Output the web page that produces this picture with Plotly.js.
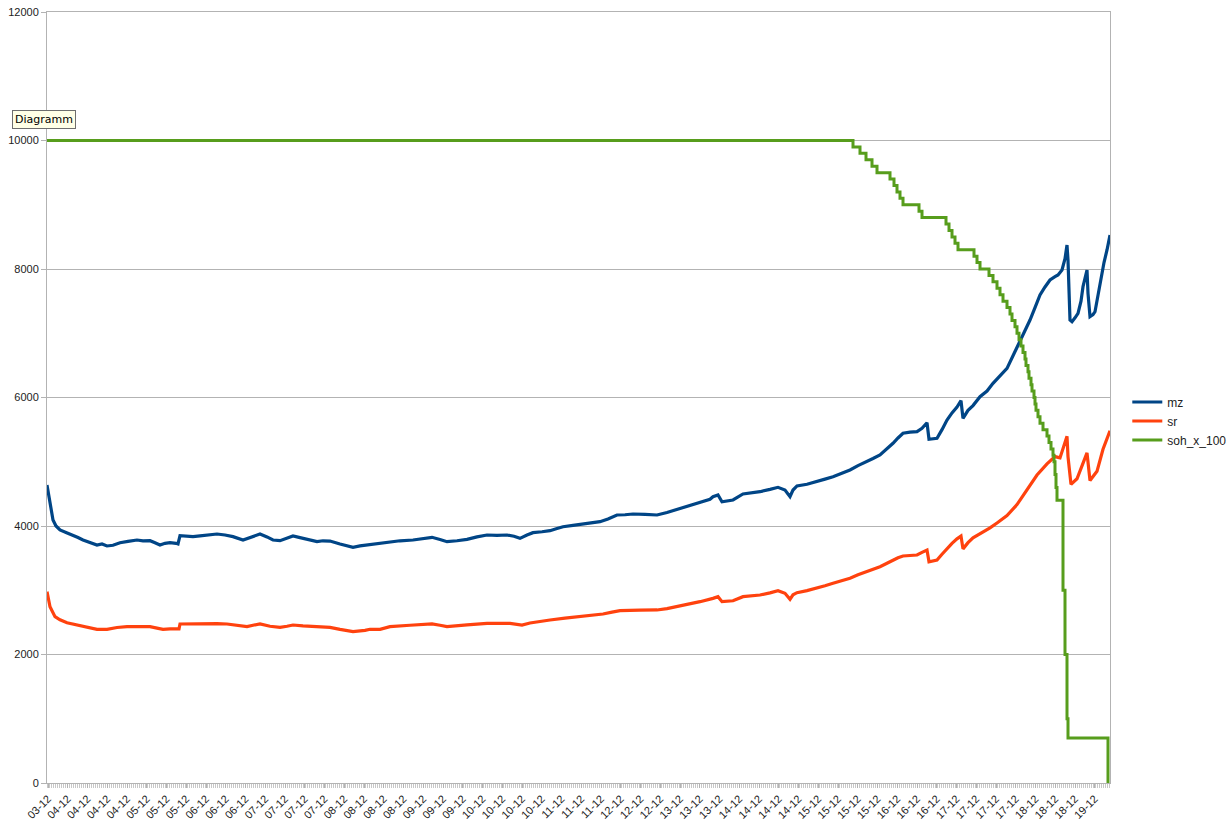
<!DOCTYPE html>
<html>
<head>
<meta charset="utf-8">
<script src="https://cdn.plot.ly/plotly-3.0.1.min.js"></script>
<style>
  html, body { margin: 0; padding: 0; background: #ffffff; }
  #chart { width: 1230px; height: 825px; }
</style>
</head>
<body>
<div id="chart"></div>
<script>
// ---- Data (sample position, value) ----
const tickLabels = ["03-12","04-12","04-12","04-12","04-12","05-12","05-12","05-12","06-12","06-12","06-12",
  "07-12","07-12","07-12","07-12","08-12","08-12","08-12","08-12","09-12","09-12","09-12",
  "10-12","10-12","10-12","10-12","11-12","11-12","11-12","12-12","12-12","12-12",
  "13-12","13-12","13-12","14-12","14-12","14-12","14-12","15-12","15-12","15-12","15-12",
  "16-12","16-12","16-12","17-12","17-12","17-12","17-12","18-12","18-12","18-12","19-12"];

const mzX = [0,3,6,9,13,19,26,31,36,43,50,55,60,66,73,81,90,96,103,108,113,118,123,129,131,133,139,146,153,161,170,178,186,196,205,213,220,226,233,240,246,253,260,270,276,283,293,300,306,313,320,328,333,343,353,366,375,385,393,400,410,420,430,440,450,460,467,473,480,486,495,503,510,516,526,536,545,553,561,570,578,586,598,610,620,630,638,646,653,663,666,671,675,680,686,696,705,713,723,731,738,743,746,750,760,770,778,786,795,803,811,820,826,833,840,846,851,856,863,870,875,880,882,886,890,895,900,905,910,914,916,921,926,933,940,946,953,960,966,973,978,983,988,993,998,1003,1008,1011,1015,1018,1020,1021,1023,1025,1028,1031,1034,1036,1040,1041,1043,1046,1048,1051,1055,1057,1060,1063];
const mzY = [4638,4353,4093,4000,3938,3900,3860,3820,3782,3740,3704,3720,3689,3700,3740,3760,3782,3770,3771,3740,3704,3730,3740,3730,3720,3850,3840,3834,3845,3860,3875,3860,3834,3782,3830,3875,3830,3782,3771,3810,3844,3820,3792,3756,3770,3766,3720,3690,3668,3690,3704,3720,3730,3756,3770,3782,3800,3824,3790,3756,3770,3792,3830,3860,3855,3860,3840,3808,3860,3896,3910,3927,3960,3989,4010,4031,4050,4067,4110,4171,4175,4187,4180,4171,4210,4260,4300,4338,4378,4416,4456,4483,4378,4390,4405,4498,4515,4534,4570,4602,4560,4456,4560,4623,4650,4690,4730,4767,4820,4872,4940,5001,5050,5105,5200,5287,5370,5443,5460,5468,5520,5608,5350,5355,5365,5500,5650,5760,5850,5950,5676,5800,5874,6012,6100,6221,6330,6454,6650,6868,7040,7206,7400,7595,7720,7829,7880,7907,7984,8160,8373,8140,7206,7180,7240,7310,7500,7725,7984,7622,7258,7290,7335,7600,7933,8100,8296,8529];

const srX = [0,3,8,13,20,26,33,41,50,60,70,80,93,103,110,116,123,130,132,133,146,160,170,180,190,200,206,213,223,233,240,246,256,266,276,283,293,300,306,318,323,333,343,363,385,393,400,420,440,463,468,475,483,493,503,518,536,546,556,565,573,593,610,620,630,643,653,666,671,675,686,696,713,723,731,738,743,746,750,760,770,778,786,795,803,811,820,826,833,840,846,851,856,863,870,875,880,882,886,890,895,900,905,910,914,916,921,926,936,943,950,960,970,980,990,1000,1008,1013,1016,1020,1021,1024,1030,1035,1040,1043,1050,1056,1063];
const srY = [2978,2744,2588,2540,2495,2475,2459,2420,2392,2392,2420,2433,2440,2433,2410,2392,2400,2408,2400,2475,2480,2485,2480,2475,2455,2433,2455,2475,2440,2423,2440,2459,2445,2433,2425,2423,2390,2365,2355,2375,2392,2392,2433,2455,2475,2455,2433,2460,2485,2485,2470,2459,2490,2515,2537,2565,2599,2615,2630,2660,2682,2690,2693,2715,2744,2790,2822,2874,2900,2822,2837,2900,2926,2960,2993,2952,2859,2930,2962,2995,3030,3070,3108,3145,3186,3240,3289,3330,3367,3420,3471,3505,3533,3540,3549,3590,3626,3444,3455,3471,3560,3653,3730,3800,3845,3644,3740,3816,3902,3970,4046,4161,4333,4563,4793,4966,5080,5060,5200,5397,5080,4649,4736,4950,5138,4707,4851,5195,5483];

const sohX = [0,806,813,819,825,830,843,847,850,853,856,872,875,899,902,905,908,911,927,930,933,942,946,950,953,956,960,963,965,968,970,972,974,976,978,979,981,982,984,985,987,988,989,991,993,996,1000,1002,1004,1006,1007,1008,1009,1010,1014,1016,1018,1020,1021,1061,1062];
const sohY = [10000,9900,9800,9700,9600,9500,9400,9300,9200,9100,9000,8900,8800,8700,8600,8500,8400,8300,8200,8100,8000,7900,7800,7700,7600,7500,7400,7300,7200,7100,7000,6900,6800,6700,6600,6500,6400,6300,6200,6100,6000,5900,5800,5700,5600,5500,5400,5300,5200,5100,5000,4800,4600,4400,4400,3000,2000,1000,700,0,0];

// ---- Axis layout constants ----
const X_MAX = 1063;
const LABEL_START = 1;
const LABEL_STEP = 19.75;
const tickVals = tickLabels.map((_, i) => LABEL_START + i * LABEL_STEP);

const FONT = "'Liberation Sans', Arial, sans-serif";
const GRID = "#b3b3b3";

const traces = [
  { x: mzX, y: mzY, name: "mz", type: "scatter", mode: "lines",
    line: { color: "#004586", width: 3.2 } },
  { x: srX, y: srY, name: "sr", type: "scatter", mode: "lines",
    line: { color: "#ff420e", width: 3.2 } },
  { x: sohX, y: sohY, name: "soh_x_100", type: "scatter", mode: "lines",
    line: { color: "#579d1c", width: 3, shape: "hv" } }
];

const layout = {
  width: 1230, height: 825,
  margin: { l: 47, r: 120, t: 12, b: 42, pad: 0 },
  paper_bgcolor: "#ffffff", plot_bgcolor: "#ffffff",
  font: { family: FONT, size: 11, color: "#222222" },
  showlegend: true,
  legend: {
    xref: "container", yref: "container",
    x: 0.9165, xanchor: "left", y: 0.4897, yanchor: "middle",
    font: { family: FONT, size: 12, color: "#222222" },
    bgcolor: "rgba(0,0,0,0)", borderwidth: 0, tracegroupgap: 0, itemwidth: 30
  },
  xaxis: {
    range: [0, X_MAX], autorange: false, fixedrange: true,
    tickmode: "array", tickvals: tickVals, ticktext: tickLabels,
    tickangle: -45, tickfont: { family: FONT, size: 11, color: "#222222" },
    ticks: "outside", ticklen: 4, tickcolor: GRID, tickwidth: 1,
    minor: { ticks: "outside", ticklen: 4, tickcolor: "#c8c8c8", tickwidth: 1, tickmode: "linear", dtick: 2, tick0: 0, showgrid: false },
    showgrid: false, zeroline: false,
    showline: true, linecolor: GRID, linewidth: 1, mirror: true,
    automargin: false
  },
  yaxis: {
    range: [0, 12000], autorange: false, fixedrange: true,
    tickmode: "linear", tick0: 0, dtick: 2000, tickformat: "d",
    tickfont: { family: FONT, size: 11, color: "#222222" },
    ticks: "outside", ticklen: 5, tickcolor: GRID, tickwidth: 1,
    showgrid: true, gridcolor: GRID, gridwidth: 1,
    zeroline: false, showline: true, linecolor: GRID, linewidth: 1, mirror: true,
    automargin: false
  },
  annotations: [{
    text: "Diagramm", xref: "paper", yref: "paper",
    x: -0.0325, xanchor: "left", y: 0.861, yanchor: "middle",
    showarrow: false, bgcolor: "#ffffe6", bordercolor: "#6e6e6e", borderwidth: 1, borderpad: 2,
    font: { family: "'DejaVu Sans', 'Noto Sans', sans-serif", size: 11, color: "#000000" }
  }]
};

Plotly.newPlot("chart", traces, layout, { displayModeBar: false, staticPlot: true });
</script>
</body>
</html>
